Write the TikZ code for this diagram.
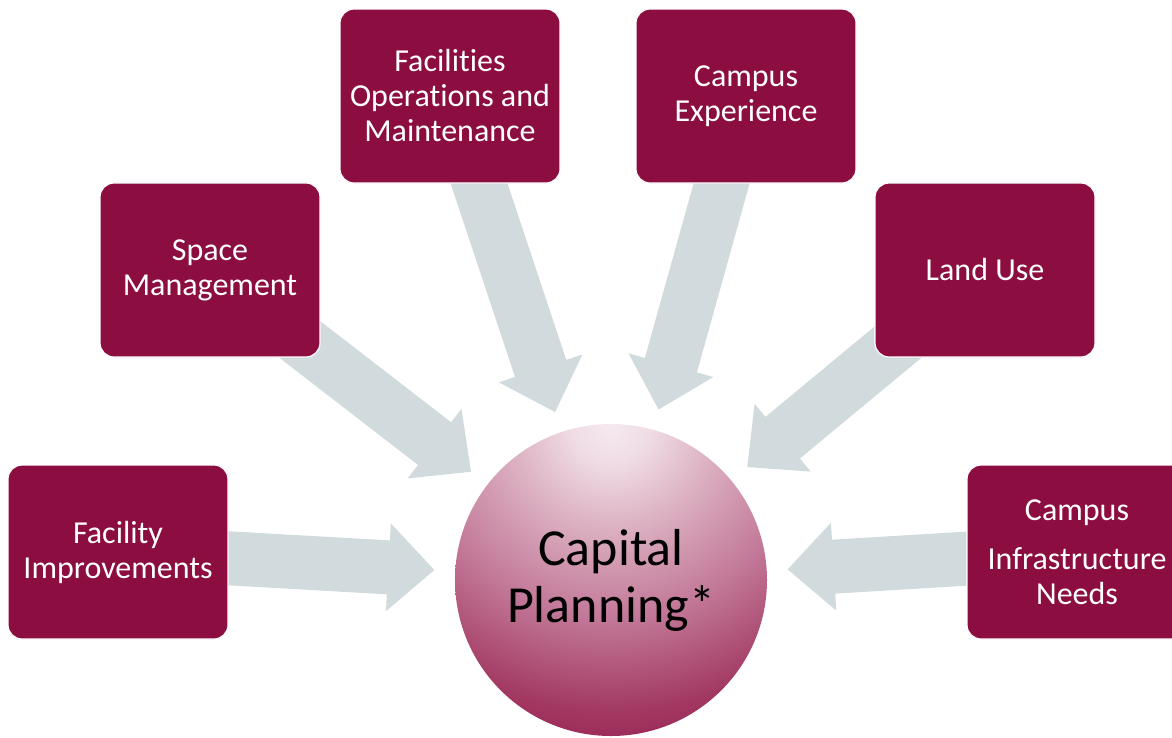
\documentclass[tikz,border=0pt]{standalone}
\usepackage{fontspec}
\setmainfont{Carlito}[Ligatures=NoCommon]
\usetikzlibrary{calc}
\definecolor{boxred}{HTML}{8C0D40}
\definecolor{arrowgray}{HTML}{D1DADC}
\definecolor{cpa}{HTML}{F5E9EF}
\definecolor{cpb}{HTML}{F0DDE5}
\definecolor{cpc}{HTML}{D9AABD}
\definecolor{cpd}{HTML}{C27898}
\definecolor{cpe}{HTML}{A23862}
\definecolor{cpf}{HTML}{9C2C5A}
\pgfdeclareradialshading{cpshade}{\pgfpoint{0bp}{0bp}}{color(0bp)=(cpa); color(12bp)=(cpb); color(36bp)=(cpc); color(62bp)=(cpd); color(92bp)=(cpe); color(100bp)=(cpf)}
\pgfdeclarelayer{bg}
\pgfsetlayers{bg,main}
\tikzset{
  boxnode/.style={draw=white, line width=1.2pt, fill=boxred, rounded corners=14pt,
    minimum width=220pt, minimum height=174pt, text=white, align=center,
    font=\fontsize{32}{35}\selectfont, inner sep=0pt},
  hubnode/.style={circle, minimum size=312pt, inner sep=0pt,
    align=center, text=black, font=\fontsize{52}{57}\selectfont},
  convfill/.style={fill=arrowgray}
}
\newcommand{\convarrow}[2]{%
  \path ($(#2.center)!470pt!(#1.center)$) coordinate (T#1)
        ($(#2.center)!223pt!(#1.center)$) coordinate (H#1)
        ($(#2.center)!177pt!(#1.center)$) coordinate (P#1);
  \fill[convfill] ($(T#1)!27pt!90:(#2.center)$) -- ($(H#1)!27pt!90:(#2.center)$)
    -- ($(H#1)!44pt!90:(#2.center)$) -- (P#1) -- ($(H#1)!44pt!-90:(#2.center)$)
    -- ($(H#1)!27pt!-90:(#2.center)$) -- ($(T#1)!27pt!-90:(#2.center)$) -- cycle;
}
\begin{document}
\begin{tikzpicture}[x=1pt,y=-1pt]
\useasboundingbox (0,0) rectangle (1172,737);
\clip (0,0) rectangle (1172,737);
\coordinate (cpc) at (611,580);
\coordinate (cpfocus) at (611,425);
\begin{scope}
  \clip (cpc) circle[radius=156pt];
  \pgftransformshift{\pgfpointanchor{cpfocus}{center}}
  \pgftransformscale{3.11}
  \pgflowlevelsynccm
  \pgfuseshading{cpshade}
\end{scope}
\node[hubnode] (cp) at (cpc) {\raisebox{-2pt}{Capital}\\\raisebox{-2pt}{Planning*}};
\node[boxnode] (b1) at (118,552) {Facility\\Improvements};
\node[boxnode] (b2) at (210,270) {Space\\Management};
\node[boxnode] (b3) at (450,96) {Facilities\\Operations and\\Maintenance};
\node[boxnode] (b4) at (746,96) {Campus\\Experience};
\node[boxnode] (b5) at (985,270) {Land Use};
\node[boxnode] (b6) at (1077,552) {Campus\\[14pt]Infrastructure\\Needs};
\begin{pgfonlayer}{bg}
\convarrow{b1}{cp}
\convarrow{b2}{cp}
\convarrow{b3}{cp}
\convarrow{b4}{cp}
\convarrow{b5}{cp}
\convarrow{b6}{cp}
\end{pgfonlayer}
\end{tikzpicture}
\end{document}
